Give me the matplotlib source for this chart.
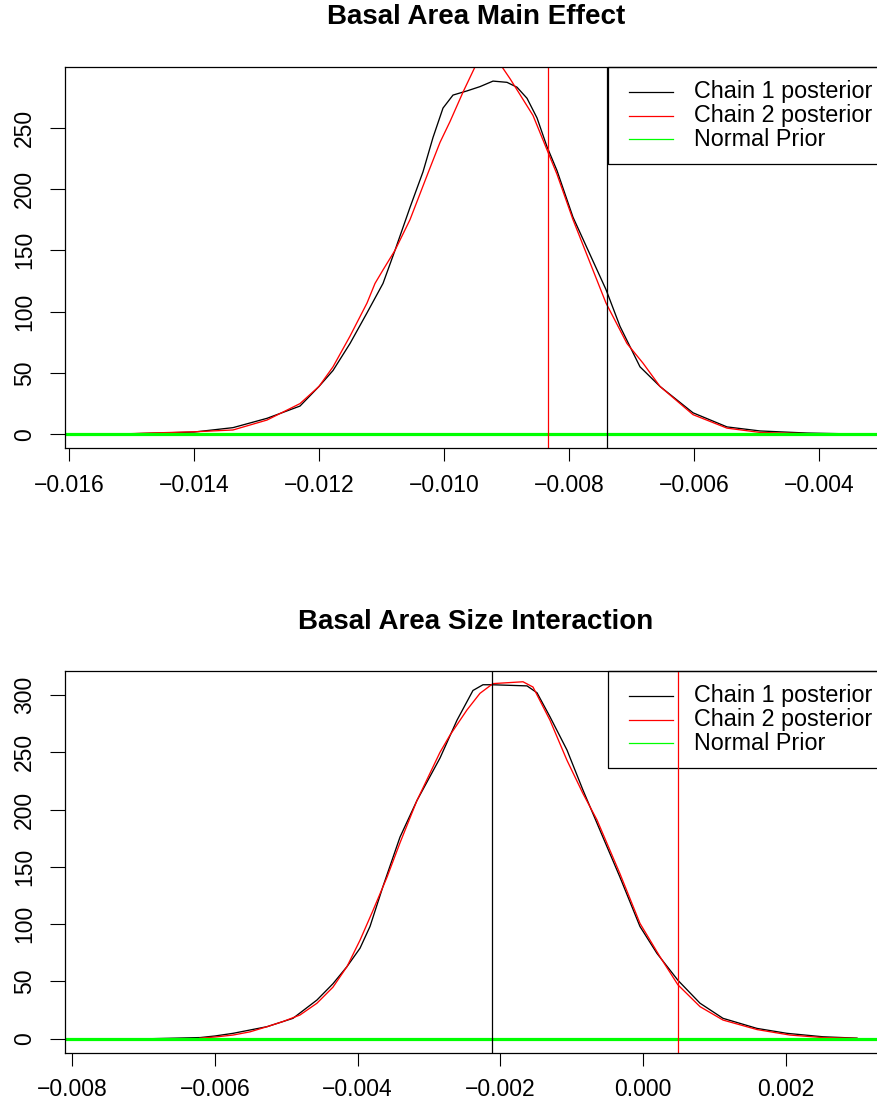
import matplotlib
matplotlib.use("Agg")
import matplotlib.pyplot as plt
from matplotlib.patches import Rectangle

plt.rcParams["font.family"] = ["Liberation Sans", "DejaVu Sans"]

# Basal area main effect: posterior densities
main_x1 = [-0.015184, -0.014704, -0.014, -0.013376, -0.012832, -0.012304, -0.012,
           -0.011776, -0.011504, -0.011232, -0.010976, -0.010784, -0.010544, -0.010336,
           -0.010176, -0.010016, -0.009856, -0.009632, -0.009424, -0.009216, -0.008992,
           -0.008832, -0.008672, -0.008512, -0.008352, -0.008192, -0.007936, -0.007408,
           -0.007184, -0.006864, -0.006544, -0.006016, -0.005472, -0.004944, -0.004192,
           -0.003392]
main_y1 = [0.2, 0.8, 1.8, 5.4, 13, 23, 39, 52, 74, 99, 123, 150, 185, 214, 242, 266,
           276.6, 280, 283.5, 288, 287, 283, 274, 258, 234.5, 215, 177, 118, 88, 55, 39,
           17.5, 6, 2.7, 1, 0.2]
main_x2 = [-0.015184, -0.014704, -0.014, -0.013376, -0.012832, -0.012304, -0.012,
           -0.011776, -0.011504, -0.011232, -0.011104, -0.010976, -0.010784, -0.010544,
           -0.010256, -0.010064, -0.009904, -0.009696, -0.0095, -0.009296, -0.009077,
           -0.008944, -0.008784, -0.008576, -0.008352, -0.008192, -0.007936, -0.007408,
           -0.007072, -0.006816, -0.006544, -0.006016, -0.005472, -0.004944, -0.004192,
           -0.003392]
main_y2 = [0.2, 1, 2, 3.5, 11.6, 25, 39, 55, 80, 107, 123, 134, 150, 175, 213, 238, 255,
           279, 300, 318, 300, 290, 277, 260, 232, 212, 175, 107, 74, 58, 39, 16, 5, 1.5,
           0.5, 0.1]
main_prior_x = [-0.0161, -0.0029]
main_prior_y = [0, 0]
main_mean1 = -0.007397
main_mean2 = -0.008331

# Basal area x size interaction
int_x1 = [-0.006908, -0.006207, -0.005997, -0.005745, -0.005269, -0.004905, -0.004569,
          -0.004345, -0.004148, -0.003966, -0.003826, -0.003644, -0.003406, -0.003168,
          -0.002846, -0.002608, -0.002384, -0.002244, -0.002118, -0.001627, -0.001487,
          -0.001305, -0.001067, -0.000843, -0.000605, -0.000325, -0.000045, 0.000193,
          0.000487, 0.000796, 0.001118, 0.001594, 0.002014, 0.002518, 0.002994]
int_y1 = [0, 1, 2.4, 4.7, 10.5, 17.8, 33.8, 48, 63, 79, 98, 133, 176, 208, 245, 278,
          304, 309, 309, 308, 302, 281, 252, 217, 182, 141, 98, 74.5, 51, 31, 17.8, 9,
          4.7, 1.7, 0.5]
int_x2 = [-0.006207, -0.005997, -0.005745, -0.005507, -0.005269, -0.005045, -0.004807,
          -0.004569, -0.004345, -0.004148, -0.003966, -0.003784, -0.003588, -0.003406,
          -0.003168, -0.002846, -0.002706, -0.002468, -0.002286, -0.002104, -0.001683,
          -0.001543, -0.001305, -0.001067, -0.000843, -0.000647, -0.000325, -0.000045,
          0.000235, 0.000487, 0.000796, 0.001118, 0.001594, 0.002056, 0.002518, 0.002994]
int_y2 = [0.5, 1.5, 3.2, 6, 10.5, 15, 20.7, 31, 45, 63, 86, 112, 141, 171, 208, 250,
          265, 287, 301.5, 310, 311.6, 307, 278, 243, 214, 191, 144, 100.7, 71.6, 47, 28,
          16.3, 8, 3.2, 1, 0.3]
int_prior_x = [-0.0082, 0.0035]
int_prior_y = [0, 0]
int_mean1 = -0.002112
int_mean2 = 0.00049

labels = ["Chain 1 posterior", "Chain 2 posterior", "Normal Prior"]
colors = ["black", "red", "#00ff00"]

W, H = 878, 1103
fig = plt.figure(figsize=(W / 100, H / 100), dpi=100)
ax1 = fig.add_axes([65 / W, 1 - 448 / H, 822 / W, 381 / H])
ax2 = fig.add_axes([65 / W, 1 - 1052.7 / H, 822 / W, 381.7 / H])


def panel(ax, x1, y1, x2, y2, px, py, m1, m2, xlim, ylim, xticks, yticks):
    ax.plot(x1, y1, color="black", lw=0.95)
    ax.plot(x2, y2, color="red", lw=0.95)
    ax.plot(px, py, color="#00ff00", lw=2.3)
    ax.axvline(m1, color="black", lw=0.9)
    ax.axvline(m2, color="red", lw=0.9)
    ax.set_xlim(*xlim)
    ax.set_ylim(*ylim)
    ax.set_xticks(xticks)
    ax.set_xticklabels([("%.3f" % v).replace("-", "\u2212") for v in xticks])
    ax.set_yticks(yticks)
    ax.set_yticklabels([str(v) for v in yticks], rotation=90, va="center")
    ax.tick_params(axis="x", direction="out", length=9.4, width=0.8, pad=9, labelsize=16.5)
    ax.tick_params(axis="y", direction="out", length=10.8, width=0.8, pad=10, labelsize=16.5)
    for s in ax.spines.values():
        s.set_linewidth(0.9)
        s.set_color("black")

    # R-style legend box at the top right corner, sized in pixels
    pos = ax.get_position()
    aw, ah = pos.width * W, pos.height * H

    def fx(dx):
        return 1 + dx / aw

    def fy(dy):
        return 1 + dy / ah

    ax.add_patch(Rectangle((fx(-279), fy(-96.5)), 279 / aw, 96.5 / ah, transform=ax.transAxes,
                           fill=False, edgecolor="black", lw=0.9, clip_on=False))
    for lab, c, dy in zip(labels, colors, [-24.7, -48.5, -72.3]):
        ax.plot([fx(-258), fx(-214)], [fy(dy), fy(dy)], transform=ax.transAxes, color=c,
                lw=0.9, clip_on=False)
        ax.text(fx(-193), fy(dy), lab, transform=ax.transAxes, fontsize=16.8,
                va="center", ha="left")


panel(ax1, main_x1, main_y1, main_x2, main_y2, main_prior_x, main_prior_y,
      main_mean1, main_mean2, (-0.016064, -0.002912), (-11.2, 299.5),
      [-0.016, -0.014, -0.012, -0.010, -0.008, -0.006, -0.004],
      [0, 50, 100, 150, 200, 250])
panel(ax2, int_x1, int_y1, int_x2, int_y2, int_prior_x, int_prior_y,
      int_mean1, int_mean2, (-0.008098, 0.003415), (-12.2, 321),
      [-0.008, -0.006, -0.004, -0.002, 0.000, 0.002],
      [0, 50, 100, 150, 200, 250, 300])

fig.text(476 / W, 1 - 17.5 / H, "Basal Area Main Effect", ha="center", va="center",
         fontsize=20, fontweight="bold")
fig.text(476 / W, 1 - 622 / H, "Basal Area Size Interaction", ha="center", va="center",
         fontsize=20, fontweight="bold")

fig.savefig("out.png", dpi=100)
